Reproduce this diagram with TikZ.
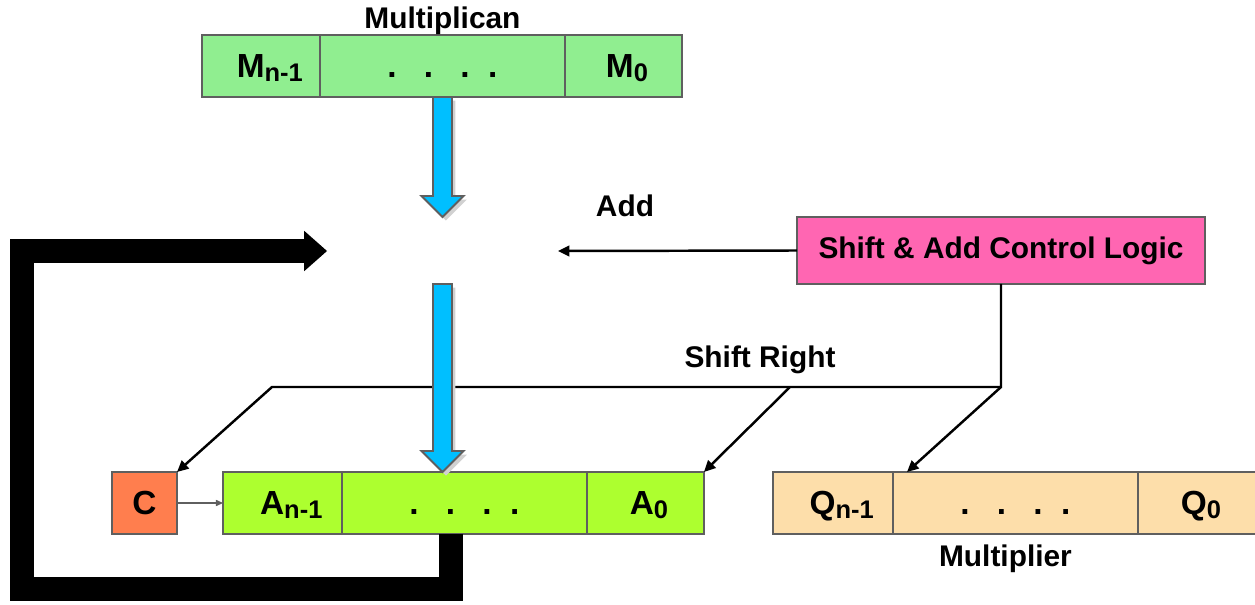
\documentclass[tikz,border=0pt]{standalone}
\usepackage{fontspec}
\setmainfont{Liberation Sans}
\usetikzlibrary{positioning,calc,arrows.meta,shadows}

\definecolor{mgreen}{RGB}{144,238,144}
\definecolor{agreen}{RGB}{173,255,47}
\definecolor{qtan}{RGB}{253,222,170}
\definecolor{ccoral}{RGB}{255,126,78}
\definecolor{ctrlpink}{RGB}{255,102,178}
\definecolor{busblue}{RGB}{0,191,255}
\definecolor{edgegray}{RGB}{95,95,95}

\newcommand{\regsub}[1]{\raisebox{-2pt}{\fontsize{14.5}{15}\selectfont #1}}
\newcommand{\reghi}[1]{\hspace{10pt}#1\regsub{n-1}}
\newcommand{\reglo}[1]{\hspace{4pt}#1\regsub{0}}
\newcommand{\regdots}{.\hspace{15.5pt}.\hspace{15.5pt}.\hspace{10.5pt}.}
% fat bus arrow from #1 down to the tip #2
\newcommand{\fatarrow}[2]{%
  \draw[busarrow] ($(#1)+(-9.5,0)$) -- ($(#2)+(-9.5,-21)$) -- ($(#2)+(-21,-21)$)
    -- (#2) -- ($(#2)+(21,-21)$) -- ($(#2)+(9.5,-21)$) -- ($(#1)+(9.5,0)$) -- cycle;}

\tikzset{
  every node/.style={font=\fontsize{17}{20}\selectfont\bfseries, inner sep=0pt, outer sep=0pt},
  cell/.style={draw=edgegray, line width=1.1pt, minimum height=1.24cm, text height=13.2pt, text depth=0pt,
    font=\fontsize{19}{21}\selectfont\bfseries},
  mcell/.style={cell, fill=mgreen},
  acell/.style={cell, fill=agreen},
  qcell/.style={cell, fill=qtan},
  ctl/.style={line width=1.4pt, -{Triangle[length=6.5pt,width=6pt]}},
  busarrow/.style={fill=busblue, draw=edgegray, line width=1.1pt, line join=miter,
    drop shadow={shadow xshift=2pt, shadow yshift=-2pt, fill=black!18, opacity=1}},
  fatloop/.style={line width=14.2pt, line join=miter, -{Triangle[length=13pt,width=23pt,line width=0pt]}}
}

\begin{document}
\begin{tikzpicture}[x=0.02cm, y=-0.02cm]
\useasboundingbox (0,0) rectangle (1255,605);

% multiplicand register
\node[mcell, minimum width=2.36cm] (mhi) at (261,66) {\reghi{M}};
\node[mcell, minimum width=4.9cm, right=0pt of mhi] (mdots) {\regdots};
\node[mcell, minimum width=2.34cm, right=0pt of mdots] (mlo) {\reglo{M}};
\node[above=0pt of mdots] {Multiplican};

% accumulator and carry
\node[cell, fill=ccoral, minimum width=1.3cm] (cbit) at (144.5,503) {C};
\node[acell, minimum width=2.38cm] (ahi) at (282.5,503) {\reghi{A}};
\node[acell, minimum width=4.9cm, right=0pt of ahi] (adots) {\regdots};
\node[acell, minimum width=2.34cm, right=0pt of adots] (alo) {\reglo{A}};

% multiplier register
\node[qcell, minimum width=2.4cm] (qhi) at (833,503) {\reghi{Q}};
\node[qcell, minimum width=4.9cm, right=0pt of qhi] (qdots) {\regdots};
\node[qcell, minimum width=2.38cm, right=0pt of qdots] (qlo) {\reglo{Q}};
\node[below=6.3pt of qdots, xshift=-5.7pt] {Multiplier};

\node[draw=edgegray, line width=1.1pt, fill=ctrlpink, minimum width=8.16cm, minimum height=1.34cm] (ctrl) at (1001,250.5) {Shift \& Add Control Logic};

\coordinate (addin) at ($(mdots.south)+(0,120)$);
\coordinate (addout) at ($(addin)+(0,67)$);
\coordinate (abus) at (addout |- adots.north);
\coordinate (addleft) at (327,251);
\coordinate (addright) at (558,251);
\coordinate (srl) at (272,387);
\coordinate (sr) at (ctrl.south |- srl);
\coordinate (srmid) at (790,387);
\coordinate (loopcorner) at (22,589);

% control lines
\draw[ctl] (ctrl.west) -- (addright);
\node[anchor=base] at (625,216) {Add};
\draw[ctl] (ctrl.south) |- (srl) -- (cbit.north east);
\draw[ctl] (srmid) -- (alo.north east);
\draw[ctl] (sr) -- ($(qhi.north east)+(14,0)$);
\node[anchor=base] at (760,367) {Shift Right};
\draw[edgegray, line width=0.6pt, -{Triangle[length=4pt,width=3.5pt]}] (cbit.east) -- (ahi.west);

% buses
\fatarrow{mdots.south}{addin}
\fatarrow{addout}{abus}
\draw[fatloop] ($(adots.south west)+(109,0)$) |- (loopcorner) |- (addleft);
\end{tikzpicture}
\end{document}
